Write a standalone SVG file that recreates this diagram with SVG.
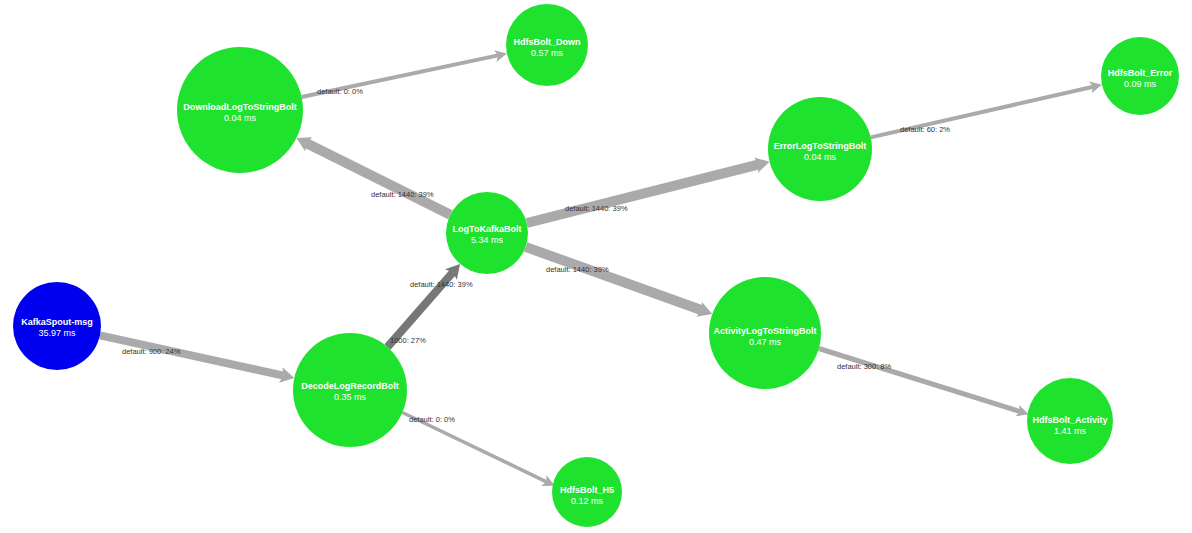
<svg xmlns="http://www.w3.org/2000/svg" width="1192" height="533" viewBox="0 0 1192 533">
<style>
  .bg{fill:#ffffff}
  .edge{stroke:#aaaaaa;fill:none;stroke-linecap:butt}
  .edge.dark{stroke:#777777}
  .bolt{fill:#1fe22e}
  .spout{fill:#0000ee}
  .name{font-family:"Liberation Sans",Arial,sans-serif;font-size:9px;font-weight:bold;fill:#ffffff;text-anchor:middle}
  .ms{font-family:"Liberation Sans",Arial,sans-serif;font-size:9px;fill:#ffffff;text-anchor:middle}
  .lbl{font-family:"Liberation Sans",Arial,sans-serif;font-size:7.5px;fill:#333333}
</style>
<defs>
  <marker id="arrowBig" markerUnits="userSpaceOnUse" viewBox="0 0 14 16" markerWidth="14" markerHeight="16" refX="3" refY="8" orient="auto">
    <path d="M0,0 L14,8 L0,16 L3,8 z" fill="#aaaaaa"/>
  </marker>
  <marker id="arrowBigDark" markerUnits="userSpaceOnUse" viewBox="0 0 14 16" markerWidth="14" markerHeight="16" refX="3" refY="8" orient="auto">
    <path d="M0,0 L14,8 L0,16 L3,8 z" fill="#777777"/>
  </marker>
  <marker id="arrowSmall" markerUnits="userSpaceOnUse" viewBox="0 0 12 12" markerWidth="12" markerHeight="12" refX="3" refY="6" orient="auto">
    <path d="M0,0 L12,6 L0,12 L3,6 z" fill="#aaaaaa"/>
  </marker>
</defs>
<rect class="bg" x="0" y="0" width="1192" height="533"/>
<g id="connectors">
  <line class="edge" x1="100" y1="335.4" x2="283.6" y2="375.6" stroke-width="8" marker-end="url(#arrowBig)"/>
  <line class="edge dark" x1="387.5" y1="347" x2="452.8" y2="272.3" stroke-width="8" marker-end="url(#arrowBigDark)"/>
  <line class="edge" x1="450.3" y1="214.7" x2="306.2" y2="143" stroke-width="10" marker-end="url(#arrowBig)"/>
  <line class="edge" x1="526.8" y1="223" x2="758.9" y2="164.4" stroke-width="10" marker-end="url(#arrowBig)"/>
  <line class="edge" x1="525.6" y1="246.9" x2="701.9" y2="310.3" stroke-width="10" marker-end="url(#arrowBig)"/>
  <line class="edge" x1="301.6" y1="97" x2="498.1" y2="55.4" stroke-width="4" marker-end="url(#arrowSmall)"/>
  <line class="edge" x1="870.7" y1="137.4" x2="1093.2" y2="86.7" stroke-width="4" marker-end="url(#arrowSmall)"/>
  <line class="edge" x1="818.8" y1="348.5" x2="1020.1" y2="411.6" stroke-width="5" marker-end="url(#arrowSmall)"/>
  <line class="edge" x1="402.4" y1="412.5" x2="546.5" y2="481.8" stroke-width="3.5" marker-end="url(#arrowSmall)"/>
  <text class="lbl" x="122" y="354">default: 900: 24%</text>
  <text class="lbl" x="390" y="343">1000: 27%</text>
  <text class="lbl" x="410" y="287">default: 1440: 39%</text>
  <text class="lbl" x="371" y="197">default: 1440: 39%</text>
  <text class="lbl" x="565" y="211">default: 1440: 39%</text>
  <text class="lbl" x="546" y="272">default: 1440: 39%</text>
  <text class="lbl" x="317" y="94">default: 0: 0%</text>
  <text class="lbl" x="900" y="132">default: 60: 2%</text>
  <text class="lbl" x="837" y="369">default: 300: 8%</text>
  <text class="lbl" x="409" y="422">default: 0: 0%</text>
</g>
<g id="node-kafkaspout-msg">
  <circle class="spout" cx="57" cy="326" r="44"/>
  <text class="name" x="57" y="325">KafkaSpout-msg</text>
  <text class="ms" x="57" y="336">35.97 ms</text>
</g>
<g id="node-decodelogrecordbolt">
  <circle class="bolt" cx="350" cy="390" r="57"/>
  <text class="name" x="350" y="389">DecodeLogRecordBolt</text>
  <text class="ms" x="350" y="400">0.35 ms</text>
</g>
<g id="node-logtokafkabolt">
  <circle class="bolt" cx="487" cy="233" r="41"/>
  <text class="name" x="487" y="232">LogToKafkaBolt</text>
  <text class="ms" x="487" y="243">5.34 ms</text>
</g>
<g id="node-downloadlogtostringbolt">
  <circle class="bolt" cx="240" cy="110" r="63"/>
  <text class="name" x="240" y="109.5">DownloadLogToStringBolt</text>
  <text class="ms" x="240" y="120.5">0.04 ms</text>
</g>
<g id="node-errorlogtostringbolt">
  <circle class="bolt" cx="820" cy="149" r="52"/>
  <text class="name" x="820" y="149">ErrorLogToStringBolt</text>
  <text class="ms" x="820" y="160">0.04 ms</text>
</g>
<g id="node-activitylogtostringbolt">
  <circle class="bolt" cx="765" cy="333" r="56"/>
  <text class="name" x="765" y="334">ActivityLogToStringBolt</text>
  <text class="ms" x="765" y="345">0.47 ms</text>
</g>
<g id="node-hdfsbolt-down">
  <circle class="bolt" cx="547" cy="45" r="41"/>
  <text class="name" x="547" y="45">HdfsBolt_Down</text>
  <text class="ms" x="547" y="56">0.57 ms</text>
</g>
<g id="node-hdfsbolt-error">
  <circle class="bolt" cx="1140" cy="76" r="39"/>
  <text class="name" x="1140" y="76">HdfsBolt_Error</text>
  <text class="ms" x="1140" y="87">0.09 ms</text>
</g>
<g id="node-hdfsbolt-activity">
  <circle class="bolt" cx="1070" cy="421" r="43"/>
  <text class="name" x="1070" y="423">HdfsBolt_Activity</text>
  <text class="ms" x="1070" y="434">1.41 ms</text>
</g>
<g id="node-hdfsbolt-h5">
  <circle class="bolt" cx="587" cy="492" r="35"/>
  <text class="name" x="587" y="493">HdfsBolt_H5</text>
  <text class="ms" x="587" y="504">0.12 ms</text>
</g>
</svg>
